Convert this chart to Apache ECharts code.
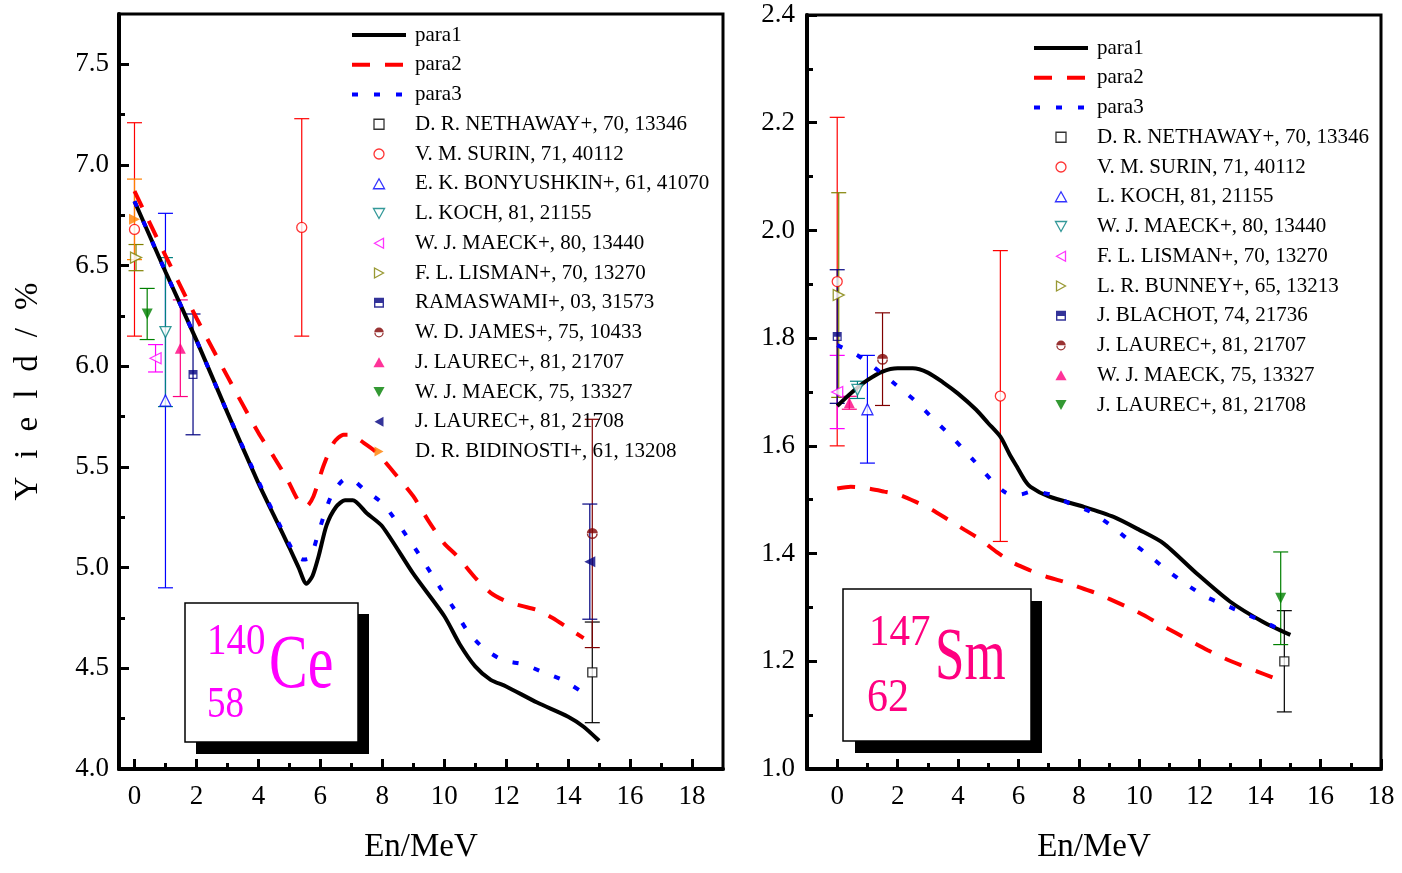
<!DOCTYPE html>
<html>
<head>
<meta charset="utf-8">
<title>Fission yields of 140Ce and 147Sm</title>
<script src="https://cdn.jsdelivr.net/npm/echarts@6/dist/echarts.min.js"></script>
<style>
  html, body { margin: 0; padding: 0; background: #ffffff; }
  #main { width: 1402px; height: 873px; }
</style>
</head>
<body>
<div id="main"></div>
<script>
const FONT = '"Liberation Serif", "DejaVu Serif", serif';

// ---------- 140Ce: calculated yield curves (%) vs neutron energy (MeV) ----------
const ceEnPara1 = [0, 1, 2, 3, 4, 4.5, 5, 5.3, 5.55, 5.75, 5.95, 6.2, 6.5, 6.8, 7.05, 7.5, 8, 9, 10, 10.5, 11, 11.5, 12, 13, 14, 14.5, 15];
const ceYieldPara1 = [6.82, 6.47, 6.13, 5.77, 5.42, 5.26, 5.10, 5.00, 4.92, 4.96, 5.06, 5.21, 5.30, 5.335, 5.335, 5.27, 5.205, 4.97, 4.76, 4.62, 4.51, 4.443, 4.41, 4.33, 4.26, 4.21, 4.14];
const ceEnPara2 = [0, 1, 2, 3, 4, 4.5, 4.93, 5.3, 5.55, 5.78, 6.1, 6.43, 6.75, 6.97, 7.4, 7.83, 8.5, 9, 9.5, 10, 10.4, 11, 11.5, 12, 12.5, 13, 13.5, 14, 14.5];
const ceYieldPara2 = [6.87, 6.55, 6.24, 5.95, 5.67, 5.55, 5.44, 5.33, 5.305, 5.355, 5.505, 5.62, 5.66, 5.66, 5.62, 5.57, 5.45, 5.355, 5.23, 5.12, 5.06, 4.95, 4.875, 4.833, 4.81, 4.79, 4.75, 4.70, 4.65];
const ceEnPara3 = [0, 1, 2, 3, 4, 4.5, 5.19, 5.45, 5.68, 5.89, 6.11, 6.38, 6.81, 7.1, 7.4, 8.04, 9.01, 9.87, 10.3, 10.73, 11.27, 11.91, 12.56, 13.2, 13.85, 14.5];
const ceYieldPara3 = [6.82, 6.47, 6.13, 5.77, 5.43, 5.27, 5.065, 5.04, 5.05, 5.148, 5.256, 5.364, 5.44, 5.43, 5.39, 5.314, 5.107, 4.90, 4.80, 4.69, 4.60, 4.54, 4.52, 4.48, 4.44, 4.377];

// ---------- 140Ce: measurements, [En (MeV), yield (%), uncertainty (%)] ----------
const ceNethaway = [[14.78, 4.48, 0.25]];
const ceSurin = [[0, 6.68, 0.53], [5.4, 6.69, 0.54]];
const ceBonyushkin = [[1.0, 5.83, 0.93]];
const ceKoch = [[1.0, 6.17, 0.37]];
const ceMaeck80 = [[0.68, 6.04, 0.068]];
const ceLisman = [[0.05, 6.54, 0.065]];
const ceRamaswami = [[1.89, 5.96, 0.30]];
const ceJames = [[14.78, 5.17, 0.567]];
const ceLaurec07 = [[1.48, 6.09, 0.24]];
const ceMaeck75 = [[0.41, 6.26, 0.127]];
const ceLaurec08 = [[14.7, 5.03, 0.286]];
const ceBidinosti = [[0, 6.73, 0.2]];

// ---------- 147Sm: calculated yield curves ----------
const smEnPara1 = [0, 0.5, 1, 1.5, 2, 2.5, 3, 3.5, 4, 4.6, 5, 5.4, 5.7, 5.95, 6.2, 6.4, 7, 8.15, 9.15, 10, 10.8, 11.9, 13, 14.1, 15];
const smYieldPara1 = [1.674, 1.70, 1.722, 1.738, 1.744, 1.744, 1.736, 1.718, 1.697, 1.667, 1.642, 1.617, 1.585, 1.561, 1.537, 1.524, 1.506, 1.487, 1.468, 1.444, 1.419, 1.363, 1.311, 1.273, 1.249];
const smEnPara2 = [0, 0.45, 1.0, 1.56, 2.06, 2.64, 3.15, 3.7, 4.22, 4.77, 5.27, 5.82, 6.38, 6.93, 7.49, 7.98, 8.54, 9.04, 9.59, 10.14, 10.64, 11.2, 11.75, 12.25, 12.8, 13.36, 13.91, 14.41];
const smYieldPara2 = [1.521, 1.524, 1.521, 1.515, 1.509, 1.495, 1.481, 1.462, 1.444, 1.425, 1.403, 1.383, 1.369, 1.357, 1.348, 1.338, 1.327, 1.315, 1.301, 1.286, 1.270, 1.253, 1.236, 1.221, 1.206, 1.193, 1.181, 1.170];
const smEnPara3 = [0, 0.73, 1.4, 1.95, 2.61, 3.22, 3.89, 4.55, 5.16, 5.5, 5.77, 6.1, 6.43, 7.1, 7.7, 8.37, 9.04, 9.65, 10.31, 10.92, 11.58, 12.19, 12.86, 13.47, 14.13, 14.74];
const smYieldPara3 = [1.787, 1.766, 1.738, 1.713, 1.682, 1.648, 1.611, 1.571, 1.533, 1.516, 1.509, 1.510, 1.515, 1.509, 1.493, 1.478, 1.453, 1.425, 1.397, 1.369, 1.342, 1.320, 1.304, 1.289, 1.273, 1.257];

// ---------- 147Sm: measurements, [En (MeV), yield (%), uncertainty (%)] ----------
const smNethaway = [[14.8, 1.20, 0.094]];
const smSurin = [[0, 1.905, 0.305], [5.4, 1.6925, 0.27]];
const smKoch = [[1.0, 1.668, 0.10]];
const smMaeck80 = [[0.67, 1.704, 0.016]];
const smLisman = [[0, 1.70, 0.068]];
const smBunney = [[0.05, 1.88, 0.19]];
const smBlachot = [[0, 1.803, 0.124]];
const smLaurec07 = [[1.5, 1.761, 0.086]];
const smMaeck75 = [[0.4, 1.68, 0.012]];
const smLaurec08 = [[14.68, 1.317, 0.086]];

// ---------- axis ticks ----------
const enMajorTicks = [0, 2, 4, 6, 8, 10, 12, 14, 16, 18];
const enMinorTicks = [1, 3, 5, 7, 9, 11, 13, 15, 17];
const ceYieldMajor = [4.0, 4.5, 5.0, 5.5, 6.0, 6.5, 7.0, 7.5];
const ceYieldMinor = [4.25, 4.75, 5.25, 5.75, 6.25, 6.75, 7.25];
const smYieldMajor = [1.0, 1.2, 1.4, 1.6, 1.8, 2.0, 2.2, 2.4];
const smYieldMinor = [1.1, 1.3, 1.5, 1.7, 1.9, 2.1, 2.3];

const COL = {
  black: '#000000', red: '#ff0000', blue: '#0000ff', teal: '#008080',
  magenta: '#ff00ff', olive: '#808000', navy: '#000080', wine: '#800000',
  pink: '#ff0080', green: '#008000', orange: '#ff8000'
};

// marker shapes as paths so the legend keeps their proportions and orientation
const SQUARE = 'path://M0,0H10V10H0Z';
const TRI_UP = 'path://M5,0L10,9L0,9Z';
const TRI_DOWN = 'path://M0,0L10,0L5,9Z';
const TRI_LEFT = 'path://M0,5L9,0L9,10Z';
const TRI_RIGHT = 'path://M0,0L9,5L0,10Z';
// half-filled shapes (upper half solid, lower half outlined)
const HALF_SQUARE = 'path://M0,0H10V5.2H0Z M0,5.2H1.4V10H0Z M8.6,5.2H10V10H8.6Z M0,8.6H10V10H0Z';
const HALF_CIRCLE = 'path://M0,5A5,5 0 0 1 10,5Z M0,5.6A5,5 0 0 0 10,5.6L8.6,5.6A3.6,3.6 0 0 1 1.4,5.6Z';

const PARA_STYLES = {
  para1: { color: COL.black, width: 4, type: 'solid' },
  para2: { color: COL.red, width: 4, type: [18, 15] },
  para3: { color: COL.blue, width: 4, type: [6, 16] }
};

const ceCurves = [
  ['para1', ceEnPara1, ceYieldPara1],
  ['para2', ceEnPara2, ceYieldPara2],
  ['para3', ceEnPara3, ceYieldPara3]
];
const smCurves = [
  ['para1', smEnPara1, smYieldPara1],
  ['para2', smEnPara2, smYieldPara2],
  ['para3', smEnPara3, smYieldPara3]
];

// marker definitions: name, points, colour, symbol, size, solid fill
const ceMarkers = [
  ['D. R. NETHAWAY+, 70, 13346', ceNethaway, COL.black, SQUARE, 9, false],
  ['V. M. SURIN, 71, 40112', ceSurin, COL.red, 'circle', 10, false],
  ['E. K. BONYUSHKIN+, 61, 41070', ceBonyushkin, COL.blue, TRI_UP, 11, false],
  ['L. KOCH, 81, 21155', ceKoch, COL.teal, TRI_DOWN, 11, false],
  ['W. J. MAECK+, 80, 13440', ceMaeck80, COL.magenta, TRI_LEFT, 11, false],
  ['F. L. LISMAN+, 70, 13270', ceLisman, COL.olive, TRI_RIGHT, 11, false],
  ['RAMASWAMI+, 03, 31573', ceRamaswami, COL.navy, HALF_SQUARE, 9, true],
  ['W. D. JAMES+, 75, 10433', ceJames, COL.wine, HALF_CIRCLE, 11, true],
  ['J. LAUREC+, 81, 21707', ceLaurec07, COL.pink, TRI_UP, 11, true],
  ['W. J. MAECK, 75, 13327', ceMaeck75, COL.green, TRI_DOWN, 11, true],
  ['J. LAUREC+, 81, 21708', ceLaurec08, COL.navy, TRI_LEFT, 11, true],
  ['D. R. BIDINOSTI+, 61, 13208', ceBidinosti, COL.orange, TRI_RIGHT, 11, true]
];
const smMarkers = [
  ['D. R. NETHAWAY+, 70, 13346', smNethaway, COL.black, SQUARE, 9, false],
  ['V. M. SURIN, 71, 40112', smSurin, COL.red, 'circle', 10, false],
  ['L. KOCH, 81, 21155', smKoch, COL.blue, TRI_UP, 11, false],
  ['W. J. MAECK+, 80, 13440', smMaeck80, COL.teal, TRI_DOWN, 11, false],
  ['F. L. LISMAN+, 70, 13270', smLisman, COL.magenta, TRI_LEFT, 11, false],
  ['L. R. BUNNEY+, 65, 13213', smBunney, COL.olive, TRI_RIGHT, 11, false],
  ['J. BLACHOT, 74, 21736', smBlachot, COL.navy, HALF_SQUARE, 9, true],
  ['J. LAUREC+, 81, 21707', smLaurec07, COL.wine, HALF_CIRCLE, 11, true],
  ['W. J. MAECK, 75, 13327', smMaeck75, COL.pink, TRI_UP, 11, true],
  ['J. LAUREC+, 81, 21708', smLaurec08, COL.green, TRI_DOWN, 11, true]
];

// series names of the second panel carry a tag so that its legend picks its own styles
const SM_TAG = '#Sm';

function curveSeries(curve, axisIndex, tag) {
  const [name, xs, ys] = curve;
  return {
    type: 'line', name: name + tag, xAxisIndex: axisIndex, yAxisIndex: axisIndex,
    data: xs.map((x, i) => [x, ys[i]]),
    symbol: 'none', smooth: 0.25, silent: true, z: 3,
    itemStyle: { color: 'transparent', borderWidth: 0 },
    lineStyle: PARA_STYLES[name]
  };
}

function errorSeries(marker, axisIndex) {
  const color = marker[2];
  return {
    type: 'custom', xAxisIndex: axisIndex, yAxisIndex: axisIndex, silent: true, z: 2,
    data: marker[1], encode: { x: 0, y: 1 },
    renderItem: function (params, api) {
      const x = api.value(0), y = api.value(1), e = api.value(2);
      const hi = api.coord([x, y + e]);
      const lo = api.coord([x, y - e]);
      const st = { stroke: color, lineWidth: 1.2 };
      const cap = 7.5;
      return {
        type: 'group',
        children: [
          { type: 'line', shape: { x1: hi[0], y1: hi[1], x2: lo[0], y2: lo[1] }, style: st },
          { type: 'line', shape: { x1: hi[0] - cap, y1: hi[1], x2: hi[0] + cap, y2: hi[1] }, style: st },
          { type: 'line', shape: { x1: lo[0] - cap, y1: lo[1], x2: lo[0] + cap, y2: lo[1] }, style: st }
        ]
      };
    }
  };
}

function markerSeries(marker, axisIndex, tag) {
  const [name, pts, color, symbol, size, solid] = marker;
  return {
    type: 'scatter', name: name + tag, xAxisIndex: axisIndex, yAxisIndex: axisIndex,
    data: pts.map(p => [p[0], p[1]]),
    symbol: symbol, symbolSize: size, silent: true, z: 5,
    itemStyle: solid
      ? { color: color, borderWidth: 0 }
      : { color: '#ffffff', borderColor: color, borderWidth: 1.3 }
  };
}

const labelStyle = { fontFamily: FONT, fontSize: 27, color: '#000000' };
const tickLine = { color: '#000000', width: 3 };

function xAxesFor(gridIndex, min, max) {
  return [
    {
      type: 'value', gridIndex: gridIndex, position: 'bottom', min: min, max: max,
      axisLine: { show: true, onZero: false, lineStyle: { color: '#000000', width: 4 } },
      axisTick: { show: true, inside: true, length: 10, customValues: enMajorTicks, lineStyle: tickLine },
      axisLabel: Object.assign({ customValues: enMajorTicks, margin: 14, formatter: v => String(v) }, labelStyle),
      splitLine: { show: false },
      name: 'En/MeV', nameLocation: 'middle', nameGap: 62,
      nameTextStyle: { fontFamily: FONT, fontSize: 33, color: '#000000' }
    },
    {
      type: 'value', gridIndex: gridIndex, position: 'bottom', min: min, max: max,
      axisLine: { show: false, onZero: false },
      axisTick: { show: true, inside: true, length: 6, customValues: enMinorTicks, lineStyle: tickLine },
      axisLabel: { show: false }, splitLine: { show: false }
    }
  ];
}

function yAxesFor(gridIndex, min, max, major, minor, margin, nameOpts) {
  const main = {
    type: 'value', gridIndex: gridIndex, position: 'left', min: min, max: max,
    axisLine: { show: true, onZero: false, lineStyle: { color: '#000000', width: 4 } },
    axisTick: { show: true, inside: true, length: 10, customValues: major, lineStyle: tickLine },
    axisLabel: Object.assign({ customValues: major, margin: margin, formatter: v => v.toFixed(1) }, labelStyle),
    splitLine: { show: false }
  };
  return [
    Object.assign(main, nameOpts || {}),
    {
      type: 'value', gridIndex: gridIndex, position: 'left', min: min, max: max,
      axisLine: { show: false, onZero: false },
      axisTick: { show: true, inside: true, length: 6, customValues: minor, lineStyle: tickLine },
      axisLabel: { show: false }, splitLine: { show: false }
    }
  ];
}

const yieldName = 'Yield/%'.split('').map(ch => '{c|' + ch + '}').join('');

function legendFor(curves, markers, left, top, tag) {
  return {
    orient: 'vertical', left: left, top: top, padding: 0,
    itemWidth: 54, itemHeight: 10, itemGap: 7.75,
    selectedMode: false, symbolKeepAspect: true,
    data: curves.map(c => c[0] + tag).concat(markers.map(m => m[0] + tag)),
    formatter: n => (tag ? n.replace(tag, '') : n),
    textStyle: { fontFamily: FONT, fontSize: 21, lineHeight: 22, color: '#000000', padding: [0, 0, 0, 4] },
    lineStyle: { width: 'inherit' },
    itemStyle: { borderWidth: 'inherit' }
  };
}

function labelBox(box, shadow, parts, color) {
  const els = [
    { type: 'rect', shape: shadow, style: { fill: '#000000' }, z: 10 },
    { type: 'rect', shape: box, style: { fill: '#ffffff', stroke: '#000000', lineWidth: 1.5 }, z: 11 }
  ];
  parts.forEach(p => {
    els.push({
      type: 'text', x: p.x, y: p.y, scaleY: p.sy, z: 12,
      style: { text: p.text, fontFamily: FONT, fontSize: p.size, fill: color, align: 'left', verticalAlign: 'middle' }
    });
  });
  return els;
}

const series = [];
ceCurves.forEach(c => series.push(curveSeries(c, 0, '')));
ceMarkers.forEach(m => series.push(errorSeries(m, 0)));
ceMarkers.forEach(m => series.push(markerSeries(m, 0, '')));
smCurves.forEach(c => series.push(curveSeries(c, 2, SM_TAG)));
smMarkers.forEach(m => series.push(errorSeries(m, 2)));
smMarkers.forEach(m => series.push(markerSeries(m, 2, SM_TAG)));

const option = {
  animation: false,
  backgroundColor: '#ffffff',
  grid: [
    { left: 119, top: 14, width: 604, height: 755, show: true, borderColor: '#000000', borderWidth: 3, backgroundColor: 'transparent' },
    { left: 807, top: 15, width: 574, height: 754, show: true, borderColor: '#000000', borderWidth: 3, backgroundColor: 'transparent' }
  ],
  xAxis: xAxesFor(0, -0.5, 19).concat(xAxesFor(1, -1, 18)),
  yAxis: yAxesFor(0, 4.0, 7.75, ceYieldMajor, ceYieldMinor, 10, {
    name: yieldName, nameLocation: 'middle', nameGap: 74,
    nameTextStyle: {
      fontFamily: FONT, fontSize: 33, color: '#000000',
      rich: { c: { fontFamily: FONT, fontSize: 33, color: '#000000', padding: [0, 9, 0, 9] } }
    }
  }).concat(yAxesFor(1, 1.0, 2.4, smYieldMajor, smYieldMinor, 12, null)),
  legend: [
    legendFor(ceCurves, ceMarkers, 350, 24, ''),
    legendFor(smCurves, smMarkers, 1032, 37, SM_TAG)
  ],
  graphic: labelBox(
      { x: 185, y: 603, width: 173, height: 139 },
      { x: 196, y: 614, width: 173, height: 140 },
      [
        { text: '140', x: 207, y: 642, size: 39, sy: 1.15 },
        { text: 'Ce', x: 269, y: 667, size: 58, sy: 1.32 },
        { text: '58', x: 207, y: 705, size: 37, sy: 1.2 }
      ], '#ff00ff')
    .concat(labelBox(
      { x: 843, y: 589, width: 188, height: 152 },
      { x: 855, y: 601, width: 187, height: 152 },
      [
        { text: '147', x: 869, y: 633, size: 41, sy: 1.08 },
        { text: 'Sm', x: 935, y: 660, size: 53, sy: 1.4 },
        { text: '62', x: 867, y: 699, size: 42, sy: 1.12 }
      ], '#ff0080')),
  series: series
};

const chart = echarts.init(document.getElementById('main'), null, { renderer: 'canvas' });
chart.setOption(option);
</script>
</body>
</html>
